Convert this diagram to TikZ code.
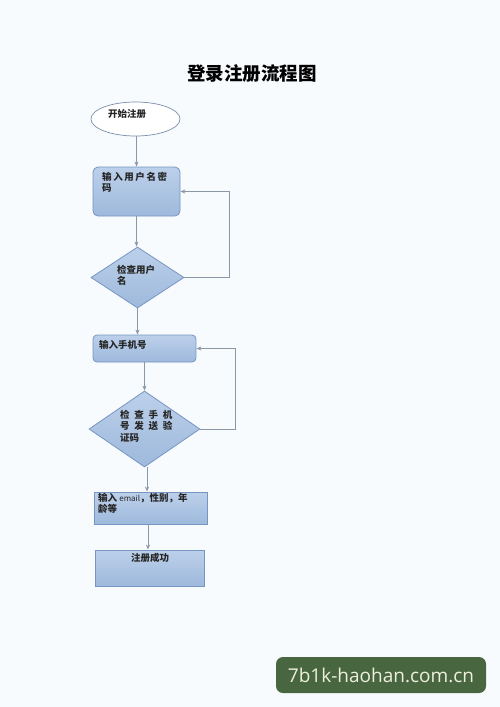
\documentclass[tikz,border=0pt]{standalone}
\usepackage{fontspec}
\setmainfont{Noto Sans CJK SC}
\newfontfamily\wmfont{Open Sans}
\usetikzlibrary{shapes.geometric,arrows.meta}
\definecolor{bgc}{HTML}{F8FBFD}
\definecolor{boxline}{HTML}{7795C2}
\definecolor{boxtop}{HTML}{BCD0EA}
\definecolor{boxbot}{HTML}{9EB9DC}
\definecolor{linec}{HTML}{8A97A6}
\definecolor{wmgreen}{HTML}{486640}
\definecolor{wmtext}{HTML}{EEF0DC}
\tikzset{
  flowbox/.style={draw=boxline, line width=0.8pt, top color=boxtop, bottom color=boxbot, inner sep=0pt},
  roundbox/.style={flowbox, rounded corners=5pt},
  decide/.style={diamond, flowbox},
  startnode/.style={ellipse, draw=boxline!70!gray, line width=0.7pt, fill=white, inner sep=0pt},
  lbl/.style={anchor=north west, inner sep=0pt, font=\bfseries\fontsize{9.5}{11.5}\selectfont, align=left, text=black!85},
  conn/.style={draw=linec, line width=1pt, -{Stealth[length=5pt,width=4pt]}},
}
\begin{document}
\begin{tikzpicture}[x=1pt,y=-1pt]
\fill[bgc] (0,0) rectangle (500,707);
\useasboundingbox (0,0) rectangle (500,707);
% title
\node (title) at (252,74) {\bfseries\fontsize{18.5}{22}\selectfont 登录注册流程图};
% shapes
\node[startnode, minimum width=89pt, minimum height=34pt] (e) at (135.5,119) {};
\node[roundbox, minimum width=87pt, minimum height=49pt] (b1) at (136.5,191.5) {};
\node[decide, minimum width=93pt, minimum height=61pt] (d1) at (137.5,277.5) {};
\node[roundbox, minimum width=103pt, minimum height=27pt, rounded corners=4pt] (b2) at (144.5,348.5) {};
\node[decide, minimum width=111pt, minimum height=76pt] (d2) at (144.5,429) {};
\node[flowbox, minimum width=113pt, minimum height=32pt] (b3) at (150.5,508) {};
\node[flowbox, minimum width=109pt, minimum height=36pt] (b4) at (149.5,568) {};
% texts
\node[lbl] (t0) at (108,109) {开始注册};
\node[lbl] (t1) at (102,172) {输\,入\,用\,户\,名\,密\\码};
\node[lbl] (t2) at (117,265) {检查用户\\名};
\node[lbl] (t3) at (99,340) {输入手机号};
\node[lbl] (t4) at (120,410) {检\enspace 查\enspace 手\enspace 机\\号\enspace 发\enspace 送\enspace 验\\证码};
\node[lbl] (t5) at (98,493) {输入 {\mdseries\fontsize{8}{10}\selectfont email}，性别，年\\龄等};
\node[lbl] (t6) at (131,553) {注册成功};
% connectors
\draw[conn] (e.south -| b1) -- (b1.north);
\draw[conn] (b1.south) -- (b1.south |- d1.north);
\draw[conn] (d1.east) -- ++(45,0) |- (b1.east);
\draw[conn] (d1.south) -- (d1.south -| 137.5,0) -- (b2.north -| 137.5,0);
\draw[conn] (b2.south) -- (d2.north);
\draw[conn] (d2.east) -- ++(35,0) |- (b2.east);
\draw[conn] (d2.south -| 147,0) -- (b3.north -| 147,0);
\draw[conn] (b3.south -| 148,0) -- (b4.north -| 148,0);
% watermark
\node[fill=wmgreen, rounded corners=7pt, minimum width=210pt, minimum height=36pt, inner sep=0pt] (wm) at (381,675) {};
\node[text=wmtext, font=\wmfont\fontsize{19}{22}\selectfont] (wmt) at (381,675) {7b1k-haohan.com.cn};
\end{tikzpicture}
\end{document}
